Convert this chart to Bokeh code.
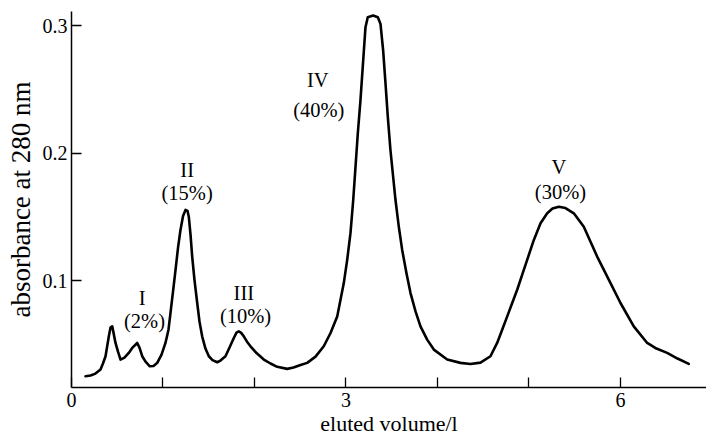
from bokeh.plotting import figure
from bokeh.models import FixedTicker, ColumnDataSource, Range1d
from bokeh.core.properties import value
from bokeh.embed import file_html
from bokeh.resources import INLINE

# eluted volume (l) and absorbance at 280 nm
volume = [0.153, 0.208, 0.262, 0.317, 0.344, 0.372, 0.408, 0.426, 0.445, 0.459,
          0.481, 0.508, 0.536, 0.579, 0.626, 0.667, 0.718, 0.743, 0.773, 0.809,
          0.856, 0.896, 0.937, 0.984, 1.027, 1.060, 1.082, 1.109, 1.137, 1.164,
          1.191, 1.219, 1.246, 1.268, 1.282, 1.301, 1.319, 1.344, 1.374, 1.399,
          1.428, 1.464, 1.501, 1.541, 1.592, 1.628, 1.683, 1.727, 1.774, 1.803,
          1.828, 1.852, 1.883, 1.918, 1.956, 2.022, 2.102, 2.175, 2.248, 2.357,
          2.426, 2.503, 2.576, 2.667, 2.757, 2.831, 2.904, 2.976, 3.013, 3.049,
          3.079, 3.104, 3.129, 3.158, 3.188, 3.213, 3.238, 3.297, 3.348, 3.377,
          3.406, 3.432, 3.457, 3.486, 3.541, 3.577, 3.614, 3.661, 3.705, 3.760,
          3.814, 3.887, 3.960, 4.106, 4.251, 4.361, 4.470, 4.579, 4.652, 4.707,
          4.762, 4.871, 4.980, 5.053, 5.126, 5.199, 5.257, 5.326, 5.399, 5.490,
          5.599, 5.745, 5.891, 6.000, 6.145, 6.292, 6.393, 6.510, 6.623, 6.746]
absorbance = [0.0252, 0.0258, 0.0273, 0.0305, 0.0352, 0.0409, 0.0565, 0.0633, 0.0643, 0.0594,
              0.0513, 0.0445, 0.0383, 0.0398, 0.0435, 0.0477, 0.0513, 0.0477, 0.0409, 0.0367,
              0.0330, 0.0332, 0.0357, 0.0422, 0.0513, 0.0617, 0.0748, 0.0914, 0.1086, 0.1258,
              0.1398, 0.1508, 0.1555, 0.1547, 0.1502, 0.1359, 0.1190, 0.1008, 0.0826, 0.0680,
              0.0565, 0.0469, 0.0409, 0.0379, 0.0362, 0.0375, 0.0409, 0.0477, 0.0552, 0.0594,
              0.0604, 0.0594, 0.0565, 0.0523, 0.0487, 0.0434, 0.0383, 0.0352, 0.0326, 0.0310,
              0.0320, 0.0340, 0.0357, 0.0406, 0.0487, 0.0591, 0.0721, 0.0982, 0.1164, 0.1373,
              0.1633, 0.1893, 0.2154, 0.2414, 0.2727, 0.2987, 0.3065, 0.3078, 0.3065, 0.3013,
              0.2805, 0.2545, 0.2284, 0.2023, 0.1633, 0.1424, 0.1242, 0.1060, 0.0904, 0.0760,
              0.0643, 0.0539, 0.0461, 0.0383, 0.0357, 0.0348, 0.0359, 0.0409, 0.0513, 0.0617,
              0.0721, 0.0930, 0.1164, 0.1320, 0.1451, 0.1529, 0.1566, 0.1580, 0.1570, 0.1529,
              0.1424, 0.1190, 0.0982, 0.0826, 0.0643, 0.0513, 0.0469, 0.0435, 0.0391, 0.0349]

# peak labels
peak_names = ["I", "II", "III", "IV", "V"]
peak_shares = ["(2%)", "(15%)", "(10%)", "(40%)", "(30%)"]
name_x = [0.773, 1.264, 1.883, 2.692, 5.326]
name_y = [0.0865, 0.1867, 0.0904, 0.2570, 0.1893]
share_x = [0.798, 1.264, 1.902, 2.703, 5.344]
share_y = [0.0682, 0.1685, 0.0721, 0.2336, 0.1698]

x_ticks = [0, 1, 2, 3, 4, 5, 6]
x_tick_labels = {1: "", 2: "", 4: "", 5: ""}
y_ticks = [0.1, 0.2, 0.3]

FONT = "serif"

p = figure(width=706, height=438, output_backend="svg", toolbar_location=None,
           x_range=Range1d(0, 6.94), y_range=Range1d(0.0164, 0.311),
           min_border_left=71, min_border_right=0, min_border_top=11,
           min_border_bottom=50)
p.outline_line_color = None
p.xgrid.visible = False
p.ygrid.visible = False
p.background_fill_color = "white"
p.border_fill_color = "white"

p.line(volume, absorbance, line_color="black", line_width=2.6,
       line_join="round", line_cap="round")

src1 = ColumnDataSource(dict(x=name_x, y=name_y, t=peak_names))
src2 = ColumnDataSource(dict(x=share_x, y=share_y, t=peak_shares))
for s in (src1, src2):
    p.text(x="x", y="y", text="t", source=s, text_align="center",
           text_baseline="middle", text_font=value(FONT),
           text_font_size="20.5px", text_color="black")

for ax in (p.xaxis[0], p.yaxis[0]):
    ax.axis_line_color = "black"
    ax.axis_line_width = 1.5
    ax.major_tick_line_color = "black"
    ax.major_tick_line_width = 1.3
    ax.major_tick_in = 10
    ax.major_tick_out = 0
    ax.minor_tick_line_color = None
    ax.major_label_text_font = FONT
    ax.major_label_text_font_size = "20px"
    ax.major_label_text_color = "black"
    ax.axis_label_text_font = FONT
    ax.axis_label_text_font_style = "normal"
    ax.axis_label_text_color = "black"

p.xaxis.ticker = FixedTicker(ticks=x_ticks)
p.xaxis.major_label_overrides = x_tick_labels
p.xaxis.major_label_standoff = 5
p.xaxis.axis_label = "eluted volume/l"
p.xaxis.axis_label_text_font_size = "22px"
p.xaxis.axis_label_standoff = 1

p.yaxis.ticker = FixedTicker(ticks=y_ticks)
p.yaxis.major_label_overrides = {0.1: "0.1", 0.2: "0.2", 0.3: "0.3"}
p.yaxis.major_label_standoff = 4
p.yaxis.axis_label = "absorbance at 280 nm"
p.yaxis.axis_label_text_font_size = "27px"
p.yaxis.axis_label_standoff = 4

open("out.html", "w").write(file_html(p, INLINE))
